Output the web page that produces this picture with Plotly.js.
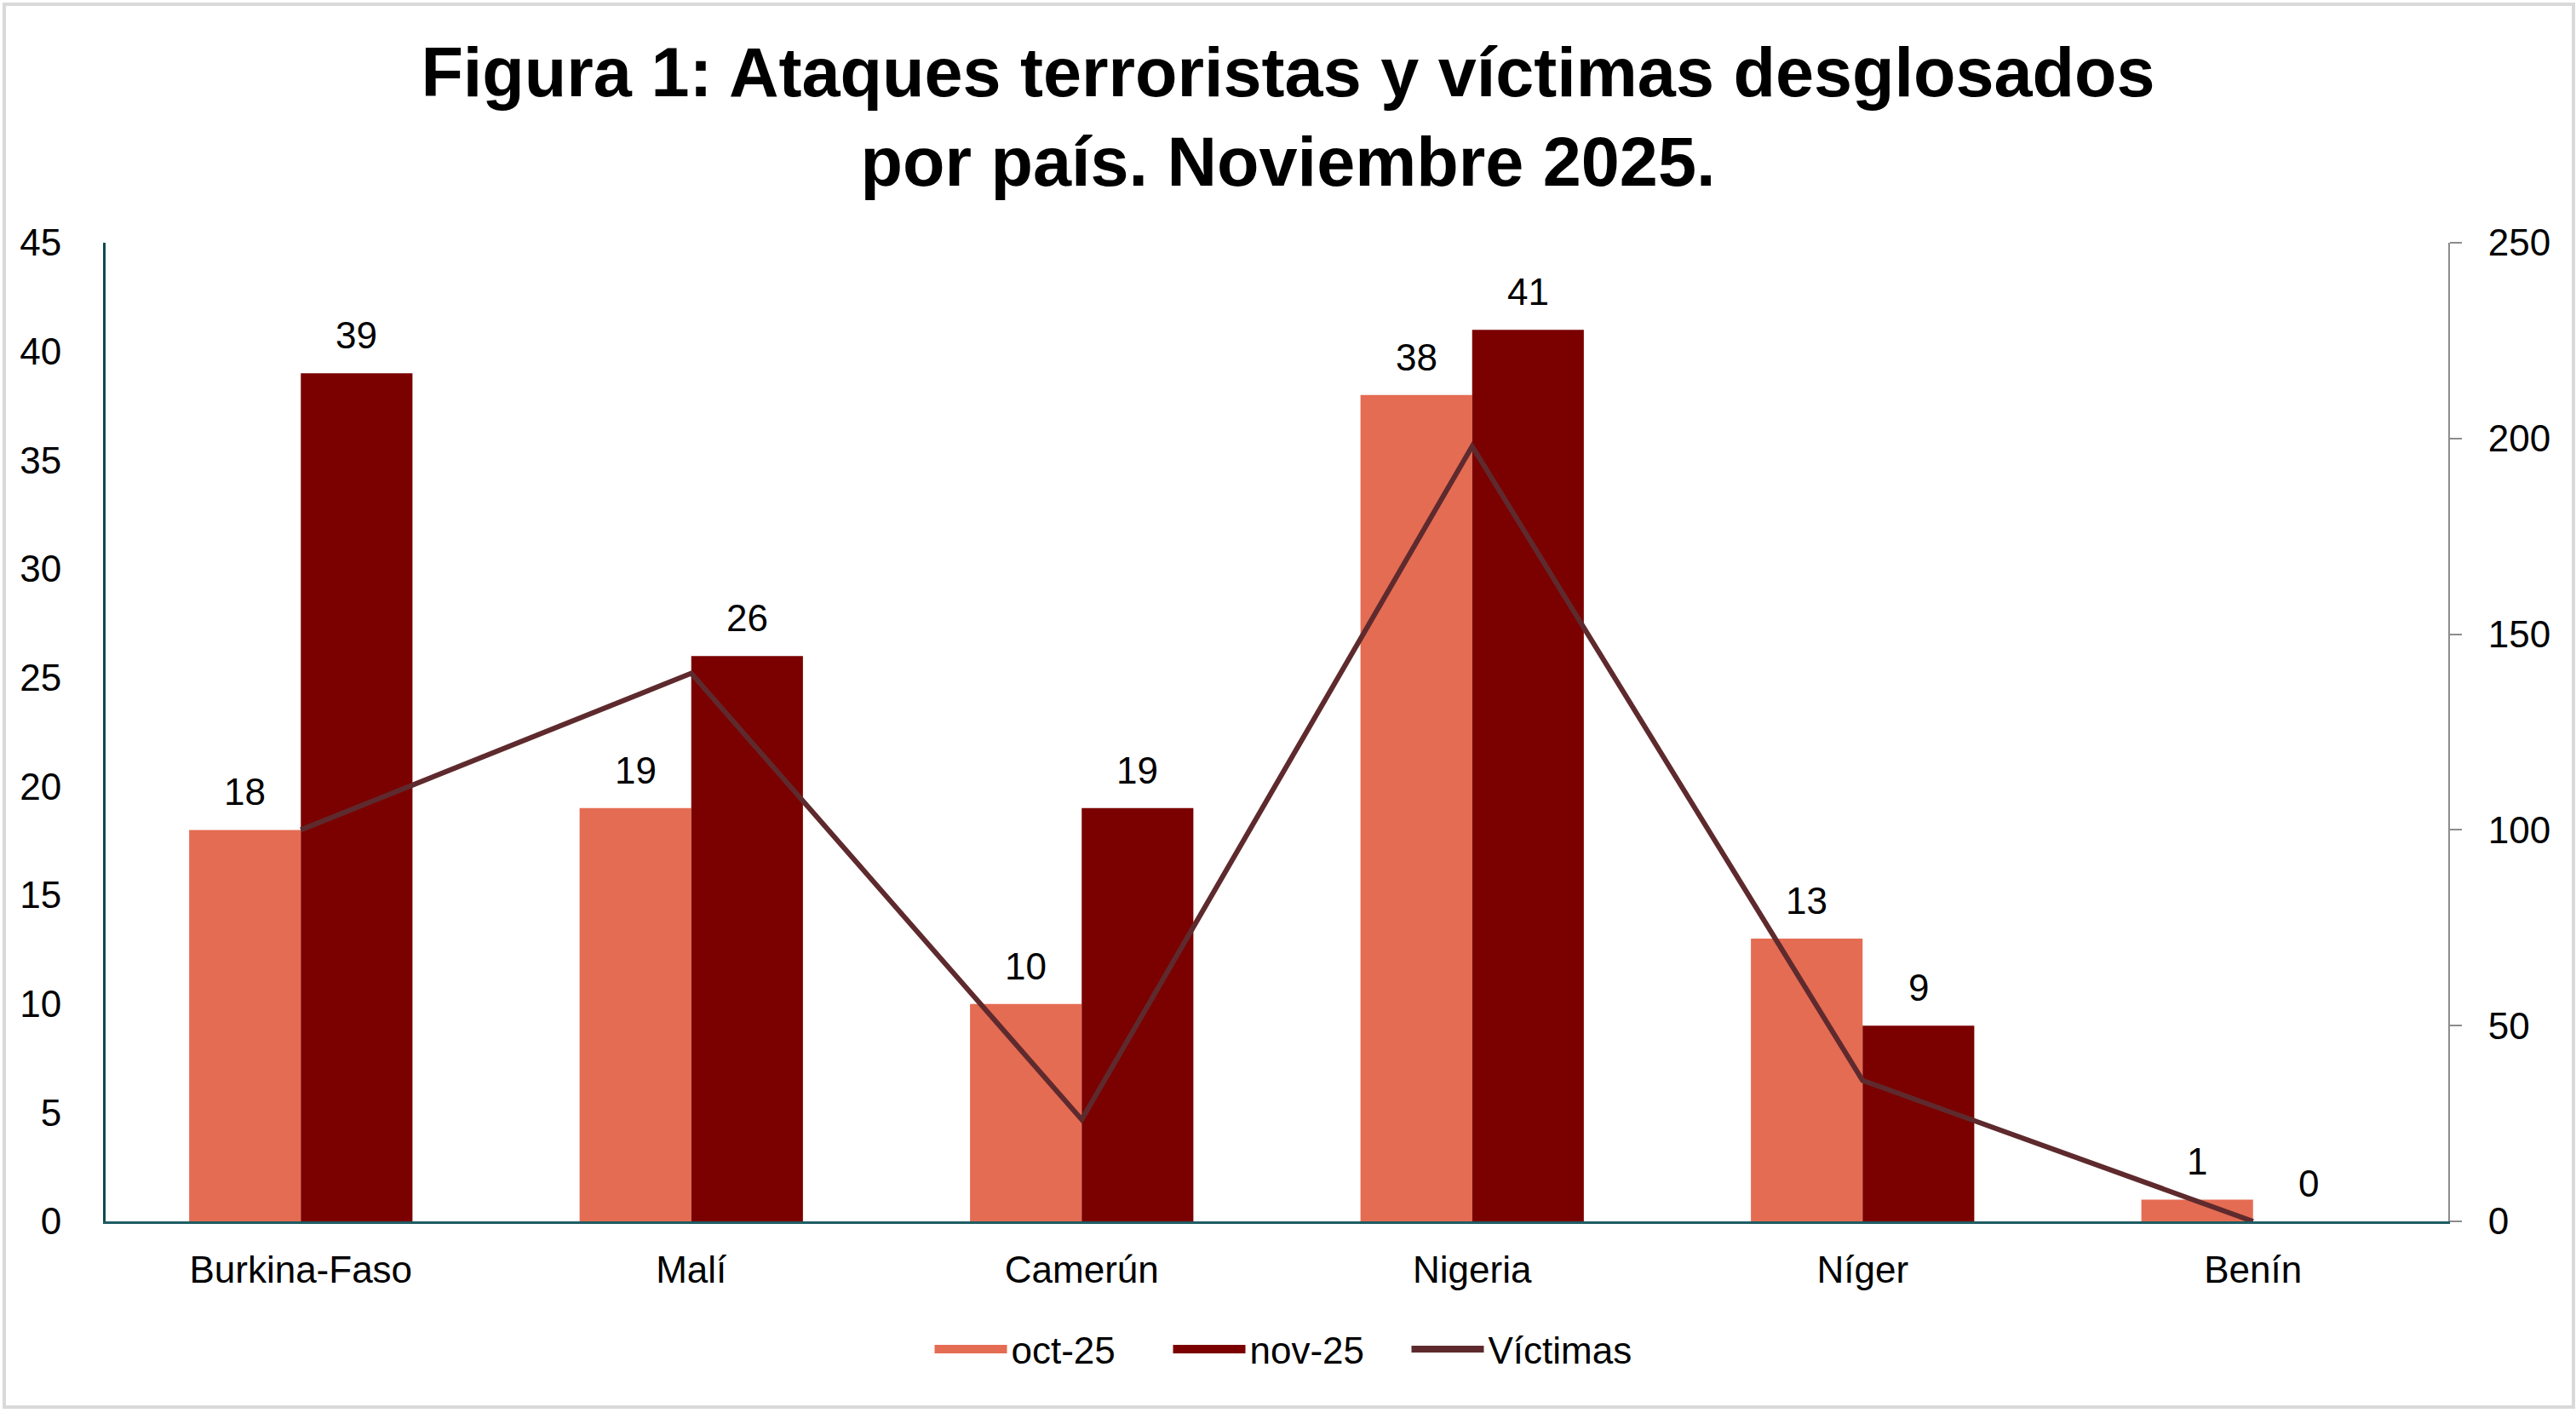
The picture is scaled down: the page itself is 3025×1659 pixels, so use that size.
<!DOCTYPE html>
<html>
<head>
<meta charset="utf-8">
<script src="https://cdn.plot.ly/plotly-3.0.1.min.js"></script>
<style>
  body { margin: 0; background: #fff; }
  #plot { width: 3025px; height: 1659px; }
  #frame { position: absolute; left: 3px; top: 3px; width: 3013px; height: 1643px;
           border: 4px solid #d9d9d9; pointer-events: none; z-index: 10; }
</style>
</head>
<body>
<div id="plot"></div>
<div id="frame"></div>
<script>
// datos
const paises = ["Burkina-Faso", "Malí", "Camerún", "Nigeria", "Níger", "Benín"];
const ataques_oct = [18, 19, 10, 38, 13, 1];
const ataques_nov = [39, 26, 19, 41, 9, 0];
const victimas = [100, 140, 26, 198, 36, 0];

const col_oct = "#e46c53";
const col_nov = "#7b0000";
const col_vic = "#5e2a2d";
const fuente = "Liberation Sans, Arial, sans-serif";

// barras
const trace_oct = {
    type: "bar", name: "oct-25", x: paises, y: ataques_oct,
    marker: {color: col_oct}, showlegend: false, hoverinfo: "x+y"
};
const trace_nov = {
    type: "bar", name: "nov-25", x: paises, y: ataques_nov,
    marker: {color: col_nov}, showlegend: false, hoverinfo: "x+y"
};
// línea de víctimas en el eje derecho
const trace_vic = {
    type: "scatter", mode: "lines", name: "Víctimas", x: paises, y: victimas,
    yaxis: "y2", line: {color: col_vic, width: 6}, showlegend: false
};

// entradas de leyenda (solo leyenda)
function legendEntry(name, color, width){
    return {type: "scatter", mode: "lines", name: name, x: [null], y: [null],
            line: {color: color, width: width}, hoverinfo: "skip"};
}

// etiquetas de datos sobre cada barra
const off = 0.143;
let anotaciones = [];
paises.forEach(function(p, i){
    anotaciones.push({x: i - off, y: ataques_oct[i], text: String(ataques_oct[i]),
        xref: "x", yref: "y", showarrow: false, yanchor: "bottom", yshift: 18,
        font: {size: 44, color: "#000", family: fuente}});
    anotaciones.push({x: i + off, y: ataques_nov[i], text: String(ataques_nov[i]),
        xref: "x", yref: "y", showarrow: false, yanchor: "bottom", yshift: 18,
        font: {size: 44, color: "#000", family: fuente}});
});

const layout = {
    width: 3025, height: 1659,
    margin: {l: 124, r: 150, t: 285, b: 225},
    paper_bgcolor: "#fff", plot_bgcolor: "#fff",
    font: {family: fuente, size: 44, color: "#000"},
    title: {
        text: "<b>Figura 1: Ataques terroristas y víctimas desglosados<br>por país. Noviembre 2025.</b>",
        font: {size: 81, family: fuente, color: "#000"},
        x: 0.5, xanchor: "center", y: 0.932, yanchor: "middle", yref: "container"
    },
    barmode: "group", bargap: 0.428, bargroupgap: 0,
    xaxis: {
        type: "category", showgrid: false, zeroline: false,
        showline: true, linecolor: "#1f5c63", linewidth: 3,
        ticks: "", ticklabelstandoff: 16,
        tickfont: {size: 44, family: fuente}
    },
    yaxis: {
        range: [0, 45], dtick: 5, showgrid: false, zeroline: false,
        showline: true, linecolor: "#0b4a52", linewidth: 3,
        ticks: "", ticklabelstandoff: 40,
        tickfont: {size: 44, family: fuente}
    },
    yaxis2: {
        overlaying: "y", side: "right", range: [0, 250], dtick: 50,
        showgrid: false, zeroline: false,
        showline: true, linecolor: "#8c8c8c", linewidth: 2,
        ticks: "outside", ticklen: 14, tickcolor: "#8c8c8c", tickwidth: 2,
        ticklabelstandoff: 22,
        tickfont: {size: 44, family: fuente}
    },
    legend: {
        orientation: "h", x: 0.5, xanchor: "center", xref: "container",
        y: 0.045, yanchor: "middle", yref: "container",
        font: {size: 44, family: fuente}, itemwidth: 85, traceorder: "normal",
        entrywidth: 180
    },
    annotations: anotaciones
};

Plotly.newPlot("plot", [trace_oct, trace_nov, trace_vic,
    legendEntry("oct-25", col_oct, 23), legendEntry("nov-25", col_nov, 23),
    legendEntry("Víctimas", col_vic, 8)], layout, {displayModeBar: false});
</script>
</body>
</html>
